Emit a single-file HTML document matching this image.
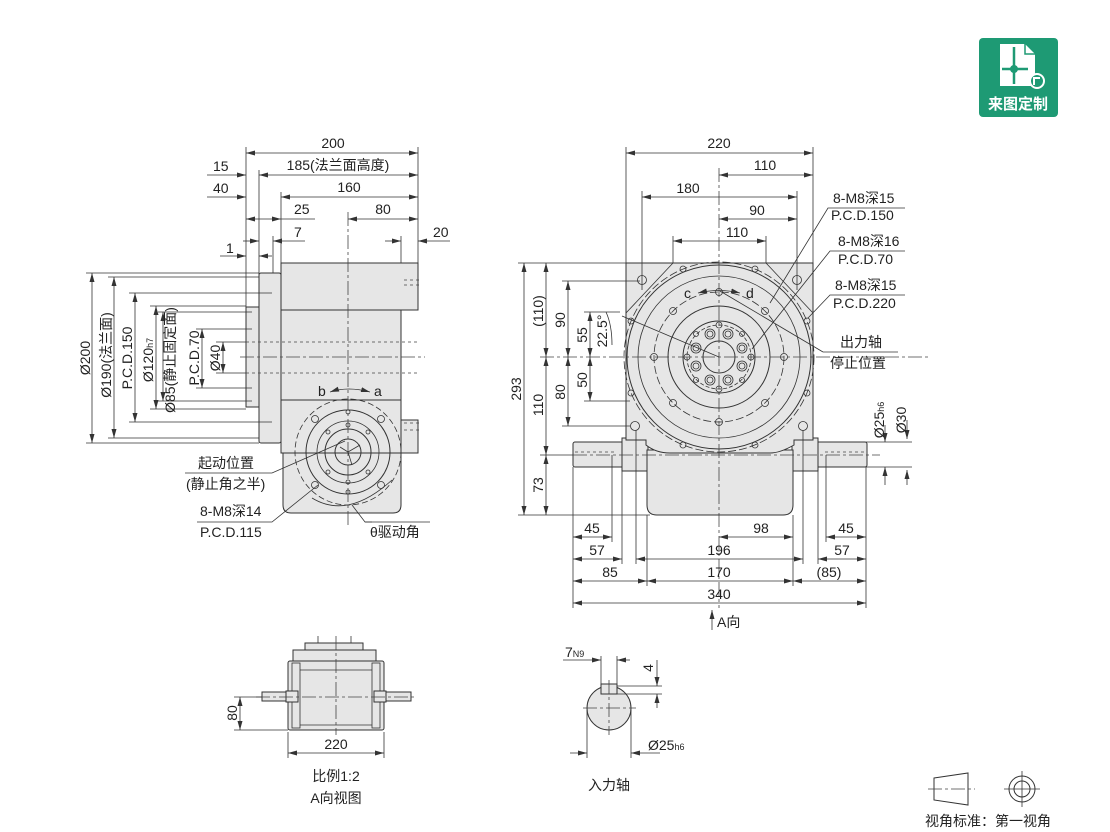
<!DOCTYPE html>
<html><head><meta charset="utf-8"><style>
html,body{margin:0;padding:0;background:#fff}
svg{display:block}
text{font-family:"Liberation Sans","Noto Sans CJK SC",sans-serif;font-size:14px;fill:#222}
.l{stroke:#333;stroke-width:1;fill:none}
.t{stroke:#333;stroke-width:0.8;fill:none}
.b{stroke:#333;stroke-width:1;fill:#e6e6e6}
.c{stroke:#444;stroke-width:0.8;fill:none;stroke-dasharray:14 3 3 3}
.d{stroke:#444;stroke-width:0.8;fill:none;stroke-dasharray:3 3}
.a{stroke:#333;stroke-width:0.8;fill:none;marker-start:url(#ms);marker-end:url(#me)}
.e{stroke:#333;stroke-width:0.8;fill:none;marker-end:url(#me)}
.w{stroke:#222;stroke-width:2;fill:none}
</style></head><body>
<svg width="1110" height="832" viewBox="0 0 1110 832" xmlns="http://www.w3.org/2000/svg">
<defs>
<marker id="me" markerWidth="10" markerHeight="6" refX="9" refY="3" orient="auto" markerUnits="userSpaceOnUse"><path d="M0,0.5 L9,3 L0,5.5z" fill="#333"/></marker>
<marker id="ms" markerWidth="10" markerHeight="6" refX="0" refY="3" orient="auto" markerUnits="userSpaceOnUse"><path d="M9,0.5 L0,3 L9,5.5z" fill="#333"/></marker>
</defs>

<!-- ===== LEFT SIDE VIEW ===== -->
<rect class="b" x="246" y="307" width="14" height="100"/>
<rect class="b" x="259" y="273" width="22" height="170" rx="2"/>
<path class="b" d="M281,263 H418 V310 H401 V400 H281 Z"/>
<path class="b" d="M281,400 H401 V420 H418 V453 H401 V505 Q401,513 393,513 H291 Q283,513 283,505 V453 H281 Z"/>
<line class="l" x1="281" y1="310" x2="401" y2="310"/>
<line class="l" x1="283" y1="453" x2="401" y2="453"/>
<rect class="b" x="401" y="420" width="17" height="33"/>
<line class="d" x1="404" y1="280" x2="420" y2="280"/><line class="d" x1="404" y1="285" x2="420" y2="285"/>
<line class="d" x1="404" y1="423" x2="420" y2="423"/><line class="d" x1="404" y1="430" x2="420" y2="430"/>
<line class="d" x1="246" y1="342" x2="418" y2="342"/><line class="d" x1="246" y1="373" x2="418" y2="373"/>
<!-- circles -->
<circle cx="348" cy="452" r="53" class="t" stroke-dasharray="6 3"/>
<circle cx="348" cy="452" r="42" class="l"/>
<circle cx="348" cy="452" r="31" class="t"/>
<circle cx="348" cy="452" r="23" class="l"/>
<circle cx="348" cy="452" r="13" class="l"/>
<g class="t"><circle cx="315" cy="419" r="3.5"/><circle cx="381" cy="419" r="3.5"/><circle cx="315" cy="485" r="3.5"/><circle cx="381" cy="485" r="3.5"/>
<circle cx="348" cy="412" r="2"/><circle cx="348" cy="492" r="2"/><circle cx="328" cy="432" r="2"/><circle cx="368" cy="432" r="2"/><circle cx="328" cy="472" r="2"/><circle cx="368" cy="472" r="2"/><circle cx="348" cy="425" r="2"/><circle cx="348" cy="482" r="2"/></g>
<line class="c" x1="348" y1="212" x2="348" y2="525"/>
<line class="c" x1="240" y1="357" x2="425" y2="357"/>
<path class="t" d="M340,447 L348,452 L360,445 M348,452 L352,465"/>
<!-- arc b/a -->
<path class="t" d="M330,392 Q348,386 370,392" marker-start="url(#ms)" marker-end="url(#me)"/>
<text x="318" y="396">b</text><text x="374" y="396">a</text>
<path class="t" d="M312,498 Q348,520 392,480"/>
<!-- top dims -->
<line class="t" x1="246" y1="147" x2="246" y2="316"/>
<line class="t" x1="259" y1="170" x2="259" y2="275"/>
<line class="t" x1="281" y1="192" x2="281" y2="263"/>
<line class="t" x1="273" y1="236" x2="273" y2="273"/>
<line class="t" x1="401" y1="236" x2="401" y2="263"/>
<line class="t" x1="418" y1="147" x2="418" y2="263"/>
<line class="a" x1="246" y1="153" x2="418" y2="153"/><text x="333" y="148" text-anchor="middle">200</text>
<line class="a" x1="259" y1="175" x2="418" y2="175"/><text x="338" y="170" text-anchor="middle">185(法兰面高度)</text>
<line class="e" x1="207" y1="175" x2="246" y2="175"/><text x="213" y="171">15</text>
<line class="a" x1="281" y1="197" x2="418" y2="197"/><text x="349" y="192" text-anchor="middle">160</text>
<line class="e" x1="207" y1="197" x2="246" y2="197"/><text x="213" y="193">40</text>
<line class="a" x1="246" y1="219" x2="281" y2="219"/><line class="t" x1="281" y1="219" x2="315" y2="219"/><text x="294" y="214">25</text>
<line class="a" x1="348" y1="219" x2="418" y2="219"/><text x="383" y="214" text-anchor="middle">80</text>
<line class="e" x1="243" y1="241" x2="259" y2="241"/><line class="e" x1="305" y1="241" x2="273" y2="241"/><text x="294" y="237">7</text>
<line class="e" x1="385" y1="241" x2="401" y2="241"/><line class="e" x1="450" y1="241" x2="418" y2="241"/><text x="433" y="237">20</text>
<line class="e" x1="220" y1="256" x2="246" y2="256"/><line class="e" x1="272" y1="256" x2="259" y2="256"/><text x="226" y="253">1</text>
<!-- left vertical dims -->
<g class="t"><line x1="86" y1="273" x2="259" y2="273"/><line x1="86" y1="443" x2="259" y2="443"/>
<line x1="108" y1="277" x2="259" y2="277"/><line x1="108" y1="438" x2="259" y2="438"/>
<line x1="129" y1="293" x2="272" y2="293"/><line x1="129" y1="422" x2="272" y2="422"/>
<line x1="150" y1="306" x2="246" y2="306"/><line x1="150" y1="409" x2="246" y2="409"/>
<line x1="158" y1="312" x2="252" y2="312"/><line x1="158" y1="401" x2="252" y2="401"/>
<line x1="196" y1="329" x2="252" y2="329"/><line x1="196" y1="388" x2="252" y2="388"/>
<line x1="216" y1="342" x2="246" y2="342"/><line x1="216" y1="373" x2="246" y2="373"/></g>
<line class="a" x1="92" y1="273" x2="92" y2="443"/>
<line class="a" x1="114" y1="277" x2="114" y2="438"/>
<line class="a" x1="135" y1="293" x2="135" y2="422"/>
<line class="a" x1="156" y1="306" x2="156" y2="409"/>
<line class="a" x1="163" y1="312" x2="163" y2="401"/>
<line class="a" x1="202" y1="329" x2="202" y2="388"/>
<line class="a" x1="223" y1="342" x2="223" y2="373"/>
<text transform="translate(90,358) rotate(-90)" text-anchor="middle">Ø200</text>
<text transform="translate(111,355) rotate(-90)" text-anchor="middle">Ø190(法兰面)</text>
<text transform="translate(132,358) rotate(-90)" text-anchor="middle">P.C.D.150</text>
<text transform="translate(153,360) rotate(-90)" text-anchor="middle">Ø120<tspan font-size="9">h7</tspan></text>
<text transform="translate(175,360) rotate(-90)" text-anchor="middle">Ø85(静止固定面)</text>
<text transform="translate(199,358) rotate(-90)" text-anchor="middle">P.C.D.70</text>
<text transform="translate(220,358) rotate(-90)" text-anchor="middle">Ø40</text>
<!-- labels -->
<text x="198" y="468">起动位置</text>
<text x="186" y="489">(静止角之半)</text>
<path class="t" d="M185,473 H272 L345,441"/>
<text x="200" y="516">8-M8深14</text>
<text x="200" y="537">P.C.D.115</text>
<path class="t" d="M197,522 H272 L318,485"/>
<text x="370" y="537">θ驱动角</text>
<path class="t" d="M372,522 H365 L352,505"/>
<path class="t" d="M365,522 H430"/>

<!-- ===== FRONT VIEW ===== -->
<!-- shafts -->
<rect class="b" x="573" y="442" width="52" height="25" rx="2"/>
<rect class="b" x="815" y="442" width="52" height="25" rx="2"/>
<rect class="b" x="622" y="438" width="26" height="33"/>
<rect class="b" x="792" y="438" width="26" height="33"/>
<path class="b" d="M647,450 H793 V505 Q793,515 783,515 H657 Q647,515 647,505 Z"/>
<path class="b" d="M626,263 H813 V440 H794 V445 Q780,453 770,453 H670 Q656,453 646,445 V440 H626 Z"/>
<path class="t" d="M673,263 L626,313 M766,263 L813,313"/>
<line class="d" x1="575" y1="452" x2="615" y2="452"/><line class="d" x1="825" y1="452" x2="865" y2="452"/>
<circle cx="719" cy="357" r="92" class="l" fill="none"/>
<circle cx="719" cy="357" r="95" class="t" stroke-dasharray="8 3"/>
<circle cx="719" cy="357" r="81" class="t"/>
<circle cx="719" cy="357" r="65" class="t" stroke-dasharray="8 3"/>
<circle cx="719" cy="357" r="51" class="l"/>
<circle cx="719" cy="357" r="36" class="l"/>
<circle cx="719" cy="357" r="32" class="t" stroke-dasharray="4 2"/>
<circle cx="719" cy="357" r="16" class="l"/>
<g class="t">
<!-- PCD150 holes -->
<circle cx="784" cy="357" r="3.5"/><circle cx="654" cy="357" r="3.5"/><circle cx="719" cy="292" r="3.5"/><circle cx="719" cy="422" r="3.5"/>
<circle cx="765" cy="311" r="3.5"/><circle cx="673" cy="311" r="3.5"/><circle cx="765" cy="403" r="3.5"/><circle cx="673" cy="403" r="3.5"/>
<!-- PCD220 holes -->
<circle cx="807" cy="321" r="3"/><circle cx="631" cy="321" r="3"/><circle cx="807" cy="393" r="3"/><circle cx="631" cy="393" r="3"/>
<circle cx="683" cy="269" r="3"/><circle cx="755" cy="269" r="3"/><circle cx="683" cy="445" r="3"/><circle cx="755" cy="445" r="3"/>
<!-- PCD70 -->
<circle cx="751" cy="357" r="3"/><circle cx="687" cy="357" r="3"/><circle cx="719" cy="325" r="3"/><circle cx="719" cy="389" r="3"/>
<circle cx="742" cy="334" r="2.5"/><circle cx="696" cy="334" r="2.5"/><circle cx="742" cy="380" r="2.5"/><circle cx="696" cy="380" r="2.5"/>
<!-- ring holes -->
<circle cx="710" cy="334" r="5"/><circle cx="710" cy="334" r="3"/><circle cx="728" cy="334" r="5"/><circle cx="728" cy="334" r="3"/>
<circle cx="710" cy="380" r="5"/><circle cx="710" cy="380" r="3"/><circle cx="728" cy="380" r="5"/><circle cx="728" cy="380" r="3"/>
<circle cx="696" cy="348" r="5"/><circle cx="696" cy="348" r="3"/><circle cx="742" cy="348" r="5"/><circle cx="742" cy="348" r="3"/>
<circle cx="696" cy="366" r="5"/><circle cx="696" cy="366" r="3"/><circle cx="742" cy="366" r="5"/><circle cx="742" cy="366" r="3"/>
<!-- corner holes -->
<circle cx="642" cy="280" r="4.5"/><circle cx="797" cy="280" r="4.5"/><circle cx="635" cy="426" r="4.5"/><circle cx="803" cy="426" r="4.5"/>
</g>
<line class="c" x1="719" y1="168" x2="719" y2="608"/>
<line class="c" x1="540" y1="357" x2="930" y2="357"/>
<line class="c" x1="573" y1="455" x2="880" y2="455"/>
<!-- arc c/d -->
<path class="t" d="M698,293 Q719,288 740,293" marker-start="url(#ms)" marker-end="url(#me)"/>
<text x="684" y="298">c</text><text x="746" y="298">d</text>
<path class="t" d="M719,357 L622,316"/>
<path class="t" d="M720,291 L823,352"/>
<path class="t" d="M606,312 Q612,325 612,345"/>
<!-- top dims -->
<g class="t"><line x1="626" y1="147" x2="626" y2="263"/><line x1="813" y1="147" x2="813" y2="263"/>
<line x1="642" y1="191" x2="642" y2="290"/><line x1="797" y1="191" x2="797" y2="290"/>
<line x1="673" y1="236" x2="673" y2="263"/><line x1="766" y1="236" x2="766" y2="263"/></g>
<line class="a" x1="626" y1="153" x2="813" y2="153"/><text x="719" y="148" text-anchor="middle">220</text>
<line class="a" x1="719" y1="175" x2="813" y2="175"/><text x="765" y="170" text-anchor="middle">110</text>
<line class="a" x1="642" y1="197" x2="797" y2="197"/><text x="688" y="193" text-anchor="middle">180</text>
<line class="a" x1="719" y1="219" x2="797" y2="219"/><text x="757" y="215" text-anchor="middle">90</text>
<line class="a" x1="673" y1="241" x2="766" y2="241"/><text x="737" y="237" text-anchor="middle">110</text>
<!-- left vertical dims -->
<g class="t"><line x1="518" y1="263" x2="626" y2="263"/><line x1="562" y1="281" x2="640" y2="281"/>
<line x1="584" y1="312" x2="620" y2="312"/><line x1="584" y1="401" x2="630" y2="401"/>
<line x1="562" y1="426" x2="630" y2="426"/><line x1="540" y1="455" x2="573" y2="455"/>
<line x1="518" y1="515" x2="650" y2="515"/></g>
<line class="a" x1="524" y1="263" x2="524" y2="515"/>
<line class="a" x1="546" y1="263" x2="546" y2="357"/>
<line class="a" x1="546" y1="357" x2="546" y2="455"/>
<line class="a" x1="546" y1="455" x2="546" y2="515"/>
<line class="a" x1="568" y1="281" x2="568" y2="357"/>
<line class="a" x1="568" y1="357" x2="568" y2="426"/>
<line class="a" x1="590" y1="312" x2="590" y2="357"/>
<line class="a" x1="590" y1="357" x2="590" y2="401"/>
<text transform="translate(521,389) rotate(-90)" text-anchor="middle">293</text>
<text transform="translate(543,311) rotate(-90)" text-anchor="middle">(110)</text>
<text transform="translate(543,405) rotate(-90)" text-anchor="middle">110</text>
<text transform="translate(543,485) rotate(-90)" text-anchor="middle">73</text>
<text transform="translate(565,320) rotate(-90)" text-anchor="middle">90</text>
<text transform="translate(565,392) rotate(-90)" text-anchor="middle">80</text>
<text transform="translate(587,335) rotate(-90)" text-anchor="middle">55</text>
<text transform="translate(587,380) rotate(-90)" text-anchor="middle">50</text>
<text transform="translate(607,331) rotate(-90)" text-anchor="middle">22.5°</text>
<!-- right labels -->
<text x="833" y="203">8-M8深15</text><text x="831" y="220">P.C.D.150</text>
<path class="t" d="M905,208 H828 L770,303"/>
<text x="838" y="246">8-M8深16</text><text x="838" y="264">P.C.D.70</text>
<path class="t" d="M905,251 H830 L752,349"/>
<text x="835" y="290">8-M8深15</text><text x="833" y="308">P.C.D.220</text>
<path class="t" d="M905,295 H830 L808,318"/>
<text x="840" y="347">出力轴</text><text x="830" y="368">停止位置</text>
<path class="t" d="M823,352 H898"/>
<!-- shaft dia -->
<line class="t" x1="866" y1="442" x2="912" y2="442"/><line class="t" x1="866" y1="467" x2="912" y2="467"/>
<line class="e" x1="885" y1="425" x2="885" y2="442"/><line class="e" x1="885" y1="485" x2="885" y2="467"/>
<line class="e" x1="907" y1="420" x2="907" y2="439"/><line class="e" x1="907" y1="485" x2="907" y2="470"/>
<text transform="translate(884,420) rotate(-90)" text-anchor="middle">Ø25<tspan font-size="9">h6</tspan></text>
<text transform="translate(906,420) rotate(-90)" text-anchor="middle">Ø30</text>
<!-- bottom dims -->
<g class="t"><line x1="573" y1="467" x2="573" y2="608"/><line x1="866" y1="467" x2="866" y2="608"/>
<line x1="612" y1="455" x2="612" y2="542"/><line x1="826" y1="455" x2="826" y2="542"/>
<line x1="622" y1="471" x2="622" y2="564"/><line x1="818" y1="471" x2="818" y2="564"/>
<line x1="636" y1="430" x2="636" y2="564"/><line x1="803" y1="430" x2="803" y2="564"/>
<line x1="647" y1="515" x2="647" y2="586"/><line x1="793" y1="515" x2="793" y2="586"/></g>
<line class="a" x1="573" y1="537" x2="612" y2="537"/><text x="592" y="533" text-anchor="middle">45</text>
<line class="a" x1="826" y1="537" x2="866" y2="537"/><text x="846" y="533" text-anchor="middle">45</text>
<line class="a" x1="719" y1="537" x2="793" y2="537"/><text x="761" y="533" text-anchor="middle">98</text>
<line class="a" x1="573" y1="559" x2="622" y2="559"/><text x="597" y="555" text-anchor="middle">57</text>
<line class="a" x1="636" y1="559" x2="803" y2="559"/><text x="719" y="555" text-anchor="middle">196</text>
<line class="a" x1="818" y1="559" x2="866" y2="559"/><text x="842" y="555" text-anchor="middle">57</text>
<line class="a" x1="573" y1="581" x2="647" y2="581"/><text x="610" y="577" text-anchor="middle">85</text>
<line class="a" x1="647" y1="581" x2="793" y2="581"/><text x="719" y="577" text-anchor="middle">170</text>
<line class="a" x1="793" y1="581" x2="866" y2="581"/><text x="829" y="577" text-anchor="middle">(85)</text>
<line class="a" x1="573" y1="603" x2="866" y2="603"/><text x="719" y="599" text-anchor="middle">340</text>
<line class="e" x1="712" y1="630" x2="712" y2="610"/><text x="717" y="627">A向</text>

<!-- ===== A VIEW ===== -->
<rect class="b" x="305" y="643" width="58" height="8"/>
<rect class="b" x="293" y="650" width="83" height="12"/>
<rect class="b" x="262" y="692" width="28" height="9"/>
<rect class="b" x="383" y="692" width="28" height="9"/>
<rect class="b" x="288" y="661" width="96" height="69" rx="2"/>
<rect class="t" x="292" y="663" width="8" height="65"/><rect class="t" x="372" y="663" width="8" height="65"/>
<rect class="b" x="286" y="691" width="12" height="11"/><rect class="b" x="374" y="691" width="12" height="11"/>
<line class="t" x1="300" y1="670" x2="372" y2="670"/><line class="t" x1="300" y1="725" x2="372" y2="725"/>
<line class="c" x1="336" y1="636" x2="336" y2="735"/>
<line class="c" x1="256" y1="697" x2="416" y2="697"/>
<line class="t" x1="318" y1="643" x2="318" y2="636"/><line class="t" x1="351" y1="643" x2="351" y2="636"/>
<line class="t" x1="234" y1="697" x2="262" y2="697"/><line class="t" x1="234" y1="730" x2="288" y2="730"/>
<line class="a" x1="240" y1="697" x2="240" y2="730"/>
<text transform="translate(237,713) rotate(-90)" text-anchor="middle">80</text>
<line class="t" x1="288" y1="732" x2="288" y2="758"/><line class="t" x1="384" y1="732" x2="384" y2="758"/>
<line class="a" x1="288" y1="753" x2="384" y2="753"/><text x="336" y="749" text-anchor="middle">220</text>
<text x="336" y="781" text-anchor="middle">比例1:2</text>
<text x="336" y="803" text-anchor="middle">A向视图</text>

<!-- ===== INPUT SHAFT ===== -->
<circle cx="609" cy="708" r="22" class="b"/>
<rect x="601" y="684" width="16" height="10" class="b"/>
<line class="c" x1="583" y1="708" x2="636" y2="708"/><line class="c" x1="609" y1="680" x2="609" y2="735"/>
<line class="t" x1="601" y1="656" x2="601" y2="684"/><line class="t" x1="617" y1="656" x2="617" y2="684"/>
<line class="e" x1="563" y1="660" x2="601" y2="660"/><line class="e" x1="630" y1="660" x2="617" y2="660"/>
<text x="565" y="657">7<tspan font-size="9">N9</tspan></text>
<line class="t" x1="617" y1="686" x2="662" y2="686"/><line class="t" x1="617" y1="694" x2="662" y2="694"/>
<line class="e" x1="657" y1="660" x2="657" y2="686"/><line class="e" x1="657" y1="708" x2="657" y2="694"/>
<text transform="translate(653,668) rotate(-90)" text-anchor="middle">4</text>
<line class="t" x1="587" y1="710" x2="587" y2="758"/><line class="t" x1="631" y1="710" x2="631" y2="758"/>
<line class="e" x1="570" y1="753" x2="587" y2="753"/><line class="e" x1="660" y1="753" x2="631" y2="753"/>
<text x="648" y="750">Ø25<tspan font-size="9">h6</tspan></text>
<text x="609" y="790" text-anchor="middle">入力轴</text>

<!-- ===== LOGO ===== -->
<rect x="979" y="38" width="79" height="79" rx="4" fill="#1e9a74"/>
<path d="M1000,44 H1025 L1035,54 V86 H1000 Z" fill="#fff"/>
<path d="M1025,44 V54 H1035" fill="none" stroke="#1e9a74" stroke-width="1.5"/>
<line x1="1014" y1="47" x2="1014" y2="84" stroke="#1e9a74" stroke-width="2.5"/>
<line x1="1002" y1="69" x2="1028" y2="69" stroke="#1e9a74" stroke-width="2.5"/>
<circle cx="1014" cy="69" r="4" fill="#1e9a74"/>
<circle cx="1037" cy="81" r="7" fill="#1e9a74" stroke="#fff" stroke-width="2"/>
<path d="M1034,85 L1034,78 L1040,78" stroke="#fff" stroke-width="2" fill="none"/>
<text x="1018" y="109" text-anchor="middle" style="fill:#fff;font-size:15px;font-weight:bold">来图定制</text>

<!-- ===== projection symbol ===== -->
<path class="l" d="M934,778 L968,773 V805 L934,800 Z"/>
<line class="c" x1="928" y1="789" x2="975" y2="789"/>
<circle cx="1022" cy="789" r="13" class="l"/><circle cx="1022" cy="789" r="8" class="l"/>
<line class="t" x1="1004" y1="789" x2="1040" y2="789"/><line class="t" x1="1022" y1="771" x2="1022" y2="807"/>
<text x="988" y="826" text-anchor="middle">视角标准：第一视角</text>
</svg>
</body></html>
